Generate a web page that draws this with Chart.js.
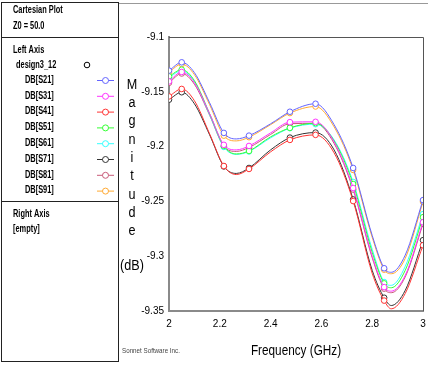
<!DOCTYPE html>
<html>
<head>
<meta charset="utf-8">
<script src="https://cdn.jsdelivr.net/npm/chart.js@4/dist/chart.umd.min.js"></script>
<style>
  html, body { margin: 0; padding: 0; background: #fff; }
  #wrap { width: 428px; height: 365px; position: relative; }
</style>
</head>
<body>
<div id="wrap"><canvas id="plot" width="428" height="365"></canvas></div>
<script>
// Frequency points (GHz)
const freqs = [2.0, 2.05, 2.1, 2.16, 2.216, 2.265, 2.315, 2.4, 2.476, 2.577, 2.65, 2.725, 2.8, 2.847, 2.875, 2.93, 3.0];
// indexes where Sonnet drew a sample marker
const markerIdx = [0, 1, 4, 6, 8, 9, 11, 13, 16];

const seriesNames = ['DB[S21]', 'DB[S31]', 'DB[S41]', 'DB[S51]', 'DB[S61]', 'DB[S71]', 'DB[S81]', 'DB[S91]'];

const s21 = [-9.1307, -9.1231, -9.1325, -9.1600, -9.1875, -9.1930, -9.1900, -9.1792, -9.1682, -9.1609, -9.1800, -9.2195, -9.2810, -9.3110, -9.3147, -9.2990, -9.2488];
const s31 = [-9.1405, -9.1319, -9.1417, -9.1700, -9.1984, -9.2030, -9.1994, -9.1875, -9.1777, -9.1774, -9.1957, -9.2378, -9.3000, -9.3282, -9.3319, -9.3175, -9.2690];
const s41 = [-9.1542, -9.1474, -9.1581, -9.1884, -9.2177, -9.2255, -9.2204, -9.2048, -9.1939, -9.1893, -9.2057, -9.2497, -9.3156, -9.3405, -9.3480, -9.3340, -9.2900];
const s51 = [-9.1359, -9.1298, -9.1398, -9.1700, -9.1994, -9.2067, -9.2040, -9.1911, -9.1829, -9.1786, -9.1948, -9.2342, -9.2964, -9.3248, -9.3288, -9.3129, -9.2644];
const s61 = [-9.1371, -9.1307, -9.1407, -9.1710, -9.2003, -9.2071, -9.2044, -9.1920, -9.1832, -9.1795, -9.1939, -9.2323, -9.2937, -9.3236, -9.3266, -9.3093, -9.2616];
const s71 = [-9.1572, -9.1504, -9.1609, -9.1893, -9.2181, -9.2245, -9.2195, -9.2030, -9.1918, -9.1872, -9.2030, -9.2482, -9.3129, -9.3379, -9.3450, -9.3312, -9.2854];
const s81 = [-9.1418, -9.1333, -9.1431, -9.1714, -9.1998, -9.2044, -9.2008, -9.1889, -9.1791, -9.1788, -9.1971, -9.2392, -9.3014, -9.3296, -9.3333, -9.3189, -9.2705];
const s91 = [-9.1320, -9.1247, -9.1343, -9.1618, -9.1900, -9.1948, -9.1914, -9.1800, -9.1694, -9.1634, -9.1820, -9.2213, -9.2827, -9.3123, -9.3160, -9.3020, -9.2504];

const yTicks = [-9.35, -9.3, -9.25, -9.2, -9.15, -9.1];
const xTicks = [2, 2.2, 2.4, 2.6, 2.8, 3];

const allSeries = [s21, s31, s41, s51, s61, s71, s81, s91];
const colors = ['#6464ff', '#ff33ff', '#ff3333', '#33ff33', '#33ffff', '#333333', '#c85a78', '#ffaa33'];

const datasets = allSeries.map(function (vals, i) {
  return {
    label: seriesNames[i],
    data: vals.map(function (v, j) { return { x: freqs[j], y: v }; }),
    borderColor: colors[i],
    backgroundColor: '#ffffff',
    borderWidth: 1,
    pointRadius: freqs.map(function (f, j) { return markerIdx.indexOf(j) >= 0 ? 2.8 : 0; }),
    pointBorderColor: colors[i],
    pointBackgroundColor: '#ffffff',
    pointBorderWidth: 1,
    tension: 0.4,
    cubicInterpolationMode: 'monotone',
    fill: false
  };
});

const FONT = '"Liberation Sans", Arial, sans-serif';

// narrow text: draw with a horizontal squeeze
function narrowText(ctx, txt, x, y, sx) {
  ctx.save();
  ctx.translate(x, y);
  ctx.scale(sx, 1);
  ctx.fillText(txt, 0, 0);
  ctx.restore();
}

// side panel, frame, axis titles
const decorations = {
  id: 'decorations',
  beforeDraw(chart) {
    const ctx = chart.ctx;
    ctx.save();
    ctx.fillStyle = '#fff';
    ctx.fillRect(0, 0, chart.width, chart.height);
    ctx.restore();
  },
  afterDraw(chart) {
    const ctx = chart.ctx;
    const a = chart.chartArea;
    ctx.save();
    // outer lines
    ctx.lineWidth = 1;
    ctx.strokeStyle = '#999';
    ctx.beginPath();
    ctx.moveTo(118, 3.5); ctx.lineTo(428, 3.5);
    ctx.stroke();
    ctx.strokeStyle = '#222';
    ctx.strokeRect(1.5, 2.5, 117, 359);
    ctx.beginPath();
    ctx.moveTo(1.5, 37.5); ctx.lineTo(118.5, 37.5);
    ctx.moveTo(1.5, 201.5); ctx.lineTo(118.5, 201.5);
    ctx.stroke();

    // plot top/right border
    ctx.strokeStyle = '#555';
    ctx.beginPath();
    ctx.moveTo(a.left, a.top + 0.5); ctx.lineTo(a.right + 0.5, a.top + 0.5); ctx.lineTo(a.right + 0.5, a.bottom);
    ctx.stroke();

    // panel text
    ctx.fillStyle = '#000';
    ctx.textBaseline = 'middle';
    ctx.textAlign = 'left';
    ctx.font = 'bold 10px ' + FONT;
    const sx = 0.74;
    narrowText(ctx, 'Cartesian Plot', 13, 10, sx);
    narrowText(ctx, 'Z0 = 50.0', 13, 26, sx);
    narrowText(ctx, 'Left Axis', 13, 50, sx);
    narrowText(ctx, 'design3_12', 16, 65, sx);
    ctx.beginPath();
    ctx.arc(87, 65, 2.8, 0, Math.PI * 2);
    ctx.strokeStyle = '#000';
    ctx.stroke();
    chart.data.datasets.forEach(function (ds, i) {
      const y = 80 + i * 15.8;
      ctx.fillStyle = '#000';
      narrowText(ctx, ds.label, 25, y, sx);
      ctx.strokeStyle = ds.borderColor;
      ctx.beginPath();
      ctx.moveTo(97, y + 0.5); ctx.lineTo(114, y + 0.5);
      ctx.stroke();
      ctx.beginPath();
      ctx.arc(105.5, y + 0.5, 3, 0, Math.PI * 2);
      ctx.fillStyle = '#fff';
      ctx.fill();
      ctx.stroke();
    });
    ctx.fillStyle = '#000';
    narrowText(ctx, 'Right Axis', 13, 214, sx);
    narrowText(ctx, '[empty]', 13, 229, sx);

    // y title, stacked letters
    ctx.font = '14px ' + FONT;
    ctx.textAlign = 'center';
    const letters = 'Magnitude'.split('');
    letters.forEach(function (ch, i) {
      narrowText(ctx, ch, 132, 85 + i * 18.3, 0.9);
    });
    narrowText(ctx, '(dB)', 132, 266, 0.9);

    // x title
    narrowText(ctx, 'Frequency (GHz)', 296, 351, 0.84);

    ctx.font = '8px ' + FONT;
    ctx.fillStyle = '#444';
    ctx.textAlign = 'left';
    narrowText(ctx, 'Sonnet Software Inc.', 122, 351, 0.78);
    ctx.restore();
  }
};

new Chart(document.getElementById('plot').getContext('2d'), {
  type: 'line',
  data: { datasets: datasets },
  options: {
    responsive: false,
    animation: false,
    layout: { padding: { left: 120, right: 4, top: 37, bottom: 32 } },
    plugins: {
      legend: { display: false },
      tooltip: { enabled: false }
    },
    scales: {
      x: {
        type: 'linear',
        min: 2,
        max: 3,
        afterBuildTicks: function (axis) { axis.ticks = xTicks.map(function (v) { return { value: v }; }); },
        afterFit: function (axis) { axis.height = 22; axis.paddingLeft = 0; axis.paddingRight = 0; },
        grid: { display: false, drawTicks: false },
        border: { display: true, color: '#8a8a8a', width: 2 },
        ticks: {
          padding: 7,
          color: '#000',
          font: { family: FONT, size: 10 },
          callback: function (v) { return String(Math.round(v * 10) / 10); }
        }
      },
      y: {
        type: 'linear',
        min: -9.35,
        max: -9.1,
        afterBuildTicks: function (axis) { axis.ticks = yTicks.map(function (v) { return { value: v }; }); },
        afterFit: function (axis) { axis.width = 49; axis.paddingTop = 0; axis.paddingBottom = 0; },
        grid: { display: false, drawTicks: false },
        border: { display: true, color: '#8a8a8a', width: 2 },
        ticks: {
          padding: 5,
          color: '#000',
          font: { family: FONT, size: 10 },
          callback: function (v) { return String(Math.round(v * 100) / 100); }
        }
      }
    }
  },
  plugins: [decorations]
});
</script>
</body>
</html>
